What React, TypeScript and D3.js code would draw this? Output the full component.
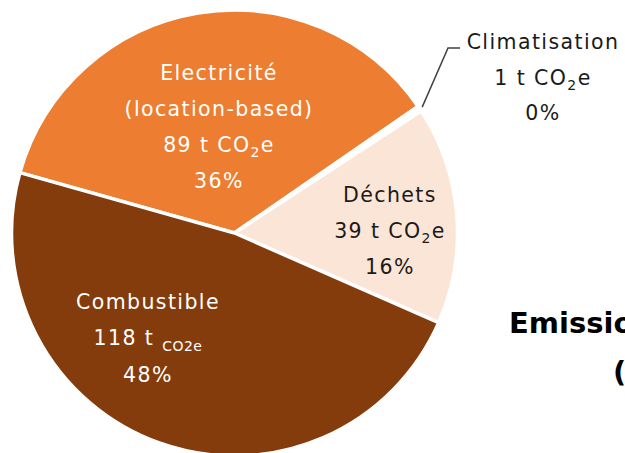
import React from "react";
import * as d3 from "d3";

const categories = ["Electricité", "Climatisation", "Déchets", "Combustible"];
const values = [89, 1, 39, 118];
const percents = ["36%", "0%", "16%", "48%"];
const colors = ["#ED7D31", "#FFFFFF", "#FBE5D6", "#843C0C"];
const titleLines = ["Emissions de GES", "(t CO2e)"];

const W = 625;
const H = 453;
const FONT = "'DejaVu Sans', sans-serif";

export default function App() {
  const cx = 234.5;
  const cy = 233;
  const r = 223;
  const start = (-74.3 * Math.PI) / 180;
  const pie = d3
    .pie<number>()
    .sort(null)
    .value((d) => d)
    .startAngle(start)
    .endAngle(start + 2 * Math.PI);
  const arcs = pie(values);
  const arc = d3.arc<d3.PieArcDatum<number>>().innerRadius(0).outerRadius(r);

  const fs = 20.5;
  const ls = 1.4;

  const T = (props: any) => (
    <text
      textAnchor="middle"
      fontSize={fs}
      fontFamily={FONT}
      letterSpacing={ls}
      {...props}
    />
  );

  const co2 = (n: number, fill: string, x: number, y: number) => (
    <T x={x} y={y} fill={fill}>
      {n} t CO
      <tspan fontSize={14} dy={5}>2</tspan>
      <tspan dy={-5}>e</tspan>
    </T>
  );

  const cl = arcs[1];
  const mid = (cl.startAngle + cl.endAngle) / 2;
  const p0: [number, number] = [cx + Math.sin(mid) * (r + 3), cy - Math.cos(mid) * (r + 3)];

  const dark = "#1a1a1a";

  return (
    <svg
      width={W}
      height={H}
      style={{ position: "absolute", left: 0, top: 0, background: "#fff" }}
    >
      <g transform={`translate(${cx},${cy})`}>
        {arcs.map((a, i) => (
          <path key={i} d={arc(a) || ""} fill={colors[i]} stroke="#fff" strokeWidth={3.5} strokeLinejoin="round" />
        ))}
      </g>
      {/* Electricité */}
      <T x={219} y={80} fill="#fff">{categories[0]}</T>
      <T x={219} y={116} fill="#fff">(location-based)</T>
      {co2(values[0], "#fff", 219, 152)}
      <T x={219} y={188} fill="#fff">{percents[0]}</T>

      {/* Déchets */}
      <T x={390} y={202} fill={dark}>{categories[2]}</T>
      {co2(values[2], dark, 390, 238)}
      <T x={390} y={274} fill={dark}>{percents[2]}</T>

      {/* Combustible */}
      <T x={148} y={309} fill="#fff">{categories[3]}</T>
      <T x={148} y={345} fill="#fff">
        {values[3]} t <tspan fontSize={14} dy={6} letterSpacing={0.5}>CO2e</tspan>
      </T>
      <T x={148} y={382} fill="#fff">{percents[3]}</T>

      {/* Climatisation outside label */}
      <polyline
        points={`${p0[0]},${p0[1]} 448,48 460,48`}
        fill="none"
        stroke="#404040"
        strokeWidth={1.5}
      />
      <T x={543} y={49} fill={dark}>{categories[1]}</T>
      {co2(values[1], dark, 543, 85)}
      <T x={543} y={120} fill={dark}>{percents[1]}</T>

      {/* Title (partly outside the frame, as in the reference) */}
      <text x={509} y={333} fontFamily={FONT} fontWeight="bold" fontSize={29} fill="#000">{titleLines[0]}</text>
      <text x={613} y={382} fontFamily={FONT} fontWeight="bold" fontSize={29} fill="#000">{titleLines[1]}</text>
    </svg>
  );
}
